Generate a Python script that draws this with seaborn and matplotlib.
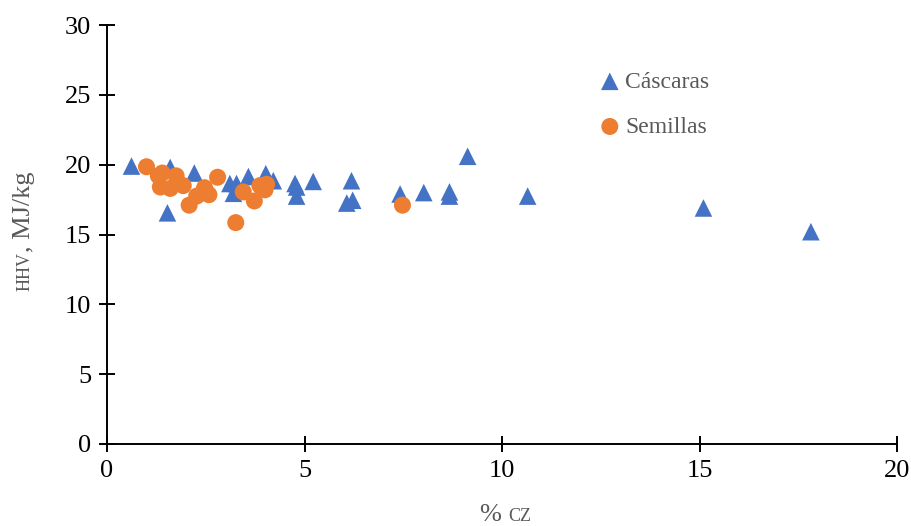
"""Scatter of HHV vs ash content for shells and seeds."""

import matplotlib.pyplot as plt
import pandas as pd
import seaborn as sns

# Cáscaras (triangles)
cascaras_cz = [0.62, 1.60, 1.53, 2.21, 3.11, 3.28, 3.20, 3.58, 4.02, 4.21,
               4.76, 4.80, 4.80, 5.22, 6.07, 6.22, 6.19, 7.42, 8.02, 8.67,
               8.67, 9.13, 10.65, 15.10, 17.82]
cascaras_hhv = [19.9, 19.8, 16.55, 19.4, 18.65, 18.65, 17.95, 19.15, 19.35, 18.85,
                18.65, 18.4, 17.75, 18.8, 17.25, 17.45, 18.85, 17.9, 18.0, 18.05,
                17.75, 20.6, 17.75, 16.9, 15.2]

# Semillas (circles)
semillas_cz = [1.00, 1.30, 1.40, 1.35, 1.60, 1.75, 1.93, 2.08, 2.27, 2.47,
               2.58, 2.80, 3.45, 3.73, 3.87, 4.04, 4.00, 3.26, 7.48]
semillas_hhv = [19.85, 19.2, 19.4, 18.4, 18.3, 19.2, 18.5, 17.1, 17.75, 18.35,
                17.85, 19.1, 18.05, 17.4, 18.5, 18.6, 18.2, 15.85, 17.1]

x_ticks = [0, 5, 10, 15, 20]
y_ticks = [0, 5, 10, 15, 20, 25, 30]

BLUE = "#4472C4"
ORANGE = "#ED7D31"
GREY = "#595959"
W, H = 912, 526

sns.set_style("white")
plt.rcParams["font.family"] = ["Liberation Serif", "DejaVu Serif"]

df_c = pd.DataFrame({"cz": cascaras_cz, "hhv": cascaras_hhv})
df_s = pd.DataFrame({"cz": semillas_cz, "hhv": semillas_hhv})

fig = plt.figure(figsize=(W / 100, H / 100), dpi=100)
ax = fig.add_axes([107 / W, (H - 444) / H, (897 - 107) / W, (444 - 25) / H])

sns.scatterplot(data=df_c, x="cz", y="hhv", marker="^", s=160, color=BLUE,
                edgecolor="none", label="Cáscaras", ax=ax, zorder=3)
sns.scatterplot(data=df_s, x="cz", y="hhv", marker="o", s=150, color=ORANGE,
                edgecolor="none", label="Semillas", ax=ax, zorder=4)

ax.set_xlim(0, 20)
ax.set_ylim(0, 30)
ax.set_xticks(x_ticks)
ax.set_yticks(y_ticks)
ax.set_xlabel("")
ax.set_ylabel("")
for side in ["top", "right"]:
    ax.spines[side].set_visible(False)
for side in ["left", "bottom"]:
    ax.spines[side].set_color("black")
    ax.spines[side].set_linewidth(1.4)
ax.tick_params(bottom=True, left=True, direction="inout", length=11, width=1.4,
               color="black", labelsize=19, labelcolor="black")
ax.tick_params(axis="x", pad=6)
ax.tick_params(axis="y", pad=6)

leg = ax.legend(loc="upper left", bbox_to_anchor=(598 / W, (H - 71) / H),
                bbox_transform=fig.transFigure, frameon=False, fontsize=17,
                handlelength=1.0, handletextpad=0.15, labelspacing=1.0,
                borderaxespad=0, borderpad=0)
for t in leg.get_texts():
    t.set_color(GREY)

# axis labels with small caps parts
renderer = fig.canvas.get_renderer()
t1 = fig.text(30 / W, (H - 291) / H, "HHV", rotation=90, rotation_mode="anchor",
              ha="left", va="baseline", fontsize=13, color=GREY)
bb = t1.get_window_extent(renderer)
fig.text(30 / W, bb.y1 / H, ", MJ/kg", rotation=90, rotation_mode="anchor",
         ha="left", va="baseline", fontsize=19, color=GREY)

t2 = fig.text(480 / W, (H - 521) / H, "% ", ha="left", va="baseline",
              fontsize=19, color=GREY)
bb = t2.get_window_extent(renderer)
fig.text(bb.x1 / W, (H - 521) / H, "CZ", ha="left", va="baseline",
         fontsize=13, color=GREY)

fig.savefig("out.png", dpi=100)
